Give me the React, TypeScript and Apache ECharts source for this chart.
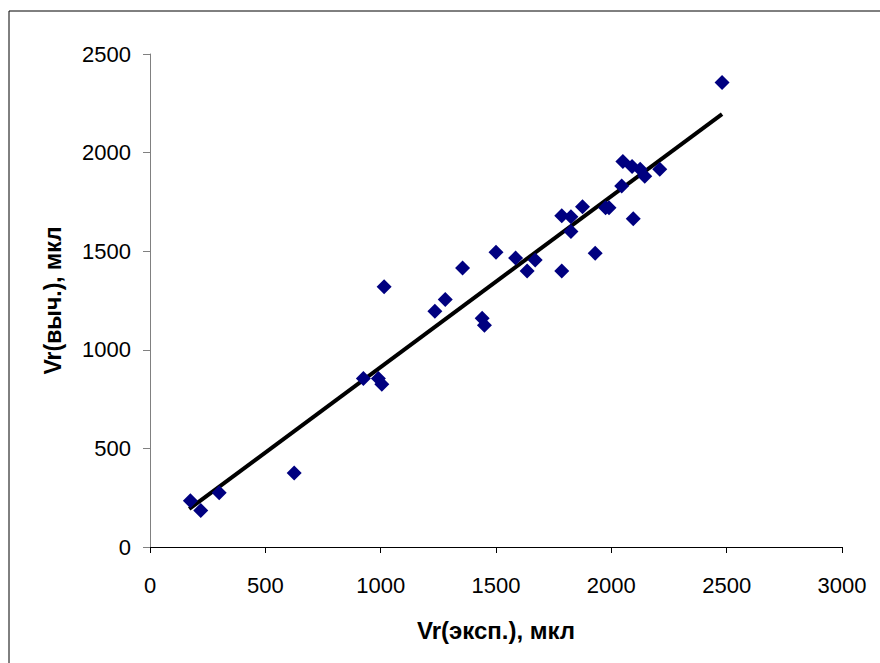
import React, { useEffect, useRef } from "react";
import * as echarts from "echarts";

const expValues = [175, 220, 300, 625, 925, 990, 1005, 1015, 1235, 1280, 1355, 1440, 1450, 1500, 1585, 1635, 1670, 1785, 1785, 1825, 1825, 1875, 1975, 1990, 1930, 2045, 2050, 2090, 2125, 2145, 2210, 2095, 2480];
const calcValues = [235, 185, 275, 375, 855, 855, 825, 1320, 1195, 1255, 1415, 1160, 1125, 1495, 1465, 1400, 1455, 1400, 1680, 1675, 1600, 1725, 1720, 1720, 1490, 1830, 1955, 1930, 1915, 1880, 1915, 1665, 2355];
const trendX = [170, 2480];
const trendY = [193, 2195];
const xTitle = "Vr(эксп.), мкл";
const yTitle = "Vr(выч.), мкл";

export default function App() {
  const ref = useRef<HTMLDivElement>(null);
  useEffect(() => {
    if (!ref.current) return;
    const chart = echarts.init(ref.current, null, { renderer: "svg" });
    const font = "Arial, 'Liberation Sans', sans-serif";
    chart.setOption({
      animation: false,
      backgroundColor: "#ffffff",
      graphic: [
        {
          type: "rect",
          shape: { x: 9, y: 11, width: 900, height: 700 },
          style: { fill: "none", stroke: "#000", lineWidth: 1 },
          silent: true,
          z: -1,
        },
      ],
      grid: { left: 150, right: 38, top: 54, bottom: 116 },
      xAxis: {
        type: "value",
        min: 0,
        max: 3000,
        interval: 500,
        name: xTitle,
        nameLocation: "middle",
        nameGap: 71,
        nameTextStyle: { fontFamily: font, fontSize: 24, fontWeight: "bold", color: "#000" },
        axisLine: { show: true, onZero: false, lineStyle: { color: "#000", width: 1 } },
        axisTick: { show: true, length: 6, lineStyle: { color: "#000" } },
        axisLabel: { fontFamily: font, fontSize: 22, color: "#000", margin: 27, formatter: (v: number) => String(v) },
        splitLine: { show: false },
      },
      yAxis: {
        type: "value",
        min: 0,
        max: 2500,
        interval: 500,
        name: yTitle,
        nameLocation: "middle",
        nameGap: 86,
        nameTextStyle: { fontFamily: font, fontSize: 23, fontWeight: "bold", color: "#000" },
        axisLine: { show: true, lineStyle: { color: "#808080", width: 1 } },
        axisTick: { show: true, length: 7, lineStyle: { color: "#808080" } },
        axisLabel: { fontFamily: font, fontSize: 22, color: "#000", margin: 19, formatter: (v: number) => String(v) },
        splitLine: { show: false },
      },
      series: [
        {
          type: "line",
          data: trendX.map((x, i) => [x, trendY[i]]),
          symbol: "none",
          lineStyle: { color: "#000", width: 4 },
          z: 2,
        },
        {
          type: "scatter",
          data: expValues.map((x, i) => [x, calcValues[i]]),
          symbol: "diamond",
          symbolSize: 15,
          itemStyle: { color: "#000080", opacity: 1 },
          z: 3,
        },
      ],
    });
    return () => chart.dispose();
  }, []);
  return (
    <div
      ref={ref}
      style={{ position: "absolute", left: 0, top: 0, width: 880, height: 663 }}
    />
  );
}
